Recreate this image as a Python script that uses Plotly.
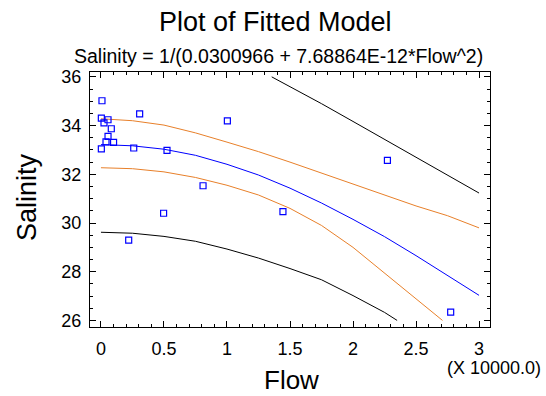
import plotly.graph_objects as go

# Observed data (Flow in units of 10000)
flow = [0.008, 0.003, 0.024, 0.056, 0.307, 0.082, 0.056, 0.040, 0.100, 0.003,
        0.260, 0.524, 1.003, 0.810, 0.497, 0.220, 1.444, 2.273, 2.775]
salinity = [35.02, 34.31, 34.11, 34.24, 34.48, 33.87, 33.56, 33.33, 33.31, 33.04,
            33.08, 32.98, 34.19, 31.53, 30.40, 29.30, 30.47, 32.57, 26.34]

# Curves
grid = [0, 0.25, 0.5, 0.75, 1.0, 1.25, 1.5, 1.75, 2.0, 2.25, 2.5, 2.75, 3.0]
fitted = [33.22, 33.17, 33.03, 32.78, 32.41, 31.97, 31.43, 30.82, 30.15, 29.44, 28.66, 27.86, 27.03]
conf_upper = [34.28, 34.20, 34.02, 33.70, 33.32, 32.93, 32.50, 32.05, 31.60, 31.13, 30.70, 30.30, 29.80]

conf_lower_x = [0, 0.25, 0.5, 0.75, 1.0, 1.25, 1.5, 1.75, 2.0, 2.25, 2.5, 2.71]
conf_lower = [32.27, 32.23, 32.10, 31.87, 31.55, 31.15, 30.60, 29.90, 29.00, 27.95, 26.90, 26.00]

pred_lower_x = [0, 0.25, 0.5, 0.75, 1.0, 1.25, 1.5, 1.75, 2.0, 2.25, 2.35]
pred_lower = [29.62, 29.58, 29.45, 29.25, 28.93, 28.56, 28.13, 27.67, 27.02, 26.33, 26.00]

pred_upper_x = [1.355, 1.5, 1.75, 2.0, 2.25, 2.5, 2.75, 3.0]
pred_upper = [36.00, 35.60, 34.90, 34.17, 33.44, 32.72, 31.98, 31.23]

x_tickvals = [0, 0.5, 1, 1.5, 2, 2.5, 3]
x_ticktext = ["0", "0.5", "1", "1.5", "2", "2.5", "3"]
y_tickvals = [26, 28, 30, 32, 34, 36]
y_ticktext = ["26", "28", "30", "32", "34", "36"]

FONT = "Liberation Sans, Arial, sans-serif"
ORANGE = "#E8802A"
BLUE = "#0000FF"

fig = go.Figure()

def add_line(x, y, color):
    fig.add_trace(go.Scatter(x=x, y=y, mode="lines",
                             line=dict(color=color, width=1, shape="linear"),
                             hoverinfo="skip"))

add_line(pred_upper_x, pred_upper, "black")
add_line(pred_lower_x, pred_lower, "black")
add_line(grid, conf_upper, ORANGE)
add_line(conf_lower_x, conf_lower, ORANGE)
add_line(grid, fitted, BLUE)

fig.add_trace(go.Scatter(x=flow, y=salinity, mode="markers",
                         marker=dict(symbol="square-open", size=6, color=BLUE,
                                     line=dict(width=1.2, color=BLUE))))

axis_common = dict(showline=True, linecolor="black", linewidth=1, mirror="allticks",
                   ticks="inside", ticklen=6, tickwidth=1, tickcolor="black",
                   showgrid=False, zeroline=False,
                   tickfont=dict(family=FONT, size=18, color="black"))

fig.update_xaxes(range=[-0.087, 3.087], tickmode="array", tickvals=x_tickvals,
                 ticktext=x_ticktext, ticklabelstandoff=5,
                 minor=dict(dtick=0.1, tick0=0, ticks="inside", ticklen=3,
                            tickcolor="black", showgrid=False),
                 **axis_common)
fig.update_yaxes(range=[25.73, 36.2], tickmode="array", tickvals=y_tickvals,
                 ticktext=y_ticktext, ticklabelstandoff=4,
                 minor=dict(dtick=0.5, tick0=26, ticks="inside", ticklen=3,
                            tickcolor="black", showgrid=False),
                 **axis_common)

L, R, T, B = 90, 490, 72, 327
def px(xp):
    return (xp - L) / (R - L)
def py(yp):
    return (B - yp) / (B - T)

annotations = [
    dict(text="Plot of Fitted Model", x=px(275), y=py(22), size=27),
    dict(text="Salinity = 1/(0.0300966 + 7.68864E-12*Flow^2)", x=px(278), y=py(56), size=19.5),
    dict(text="Flow", x=px(291), y=py(380), size=26),
]
ann_list = []
for a in annotations:
    ann_list.append(dict(text=a["text"], x=a["x"], y=a["y"], xref="paper", yref="paper",
                         xanchor="center", yanchor="middle", showarrow=False,
                         font=dict(family=FONT, size=a["size"], color="black")))
ann_list.append(dict(text="Salinity", x=px(27), y=py(197), xref="paper", yref="paper",
                     xanchor="center", yanchor="middle", showarrow=False, textangle=-90,
                     font=dict(family=FONT, size=27, color="black")))
ann_list.append(dict(text="(X 10000.0)", x=px(543), y=py(368), xref="paper", yref="paper",
                     xanchor="right", yanchor="middle", showarrow=False,
                     font=dict(family=FONT, size=18, color="black")))

fig.update_layout(width=546, height=396,
                  margin=dict(l=L, r=546 - R, t=T, b=396 - B, pad=0),
                  paper_bgcolor="white", plot_bgcolor="white",
                  showlegend=False, annotations=ann_list,
                  font=dict(family=FONT, color="black"))

fig.write_html("out.html")
